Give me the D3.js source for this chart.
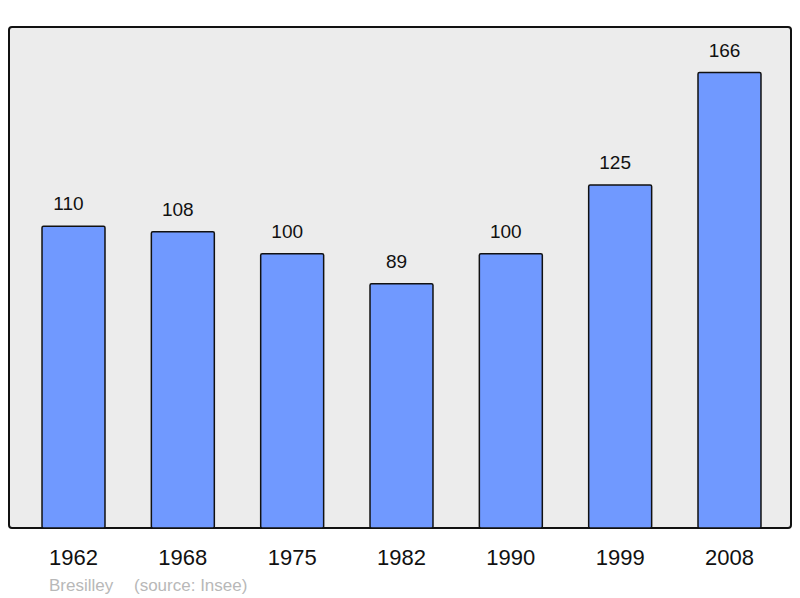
<!DOCTYPE html>
<html>
<head>
<meta charset="utf-8">
<script src="https://cdn.jsdelivr.net/npm/d3@7"></script>
<style>
  body { margin: 0; background: #fff; }
  text { font-family: "Liberation Sans", Arial, sans-serif; }
</style>
</head>
<body>
<div id="wrapper"></div>
<script>
// population by census year
const years = ["1962", "1968", "1975", "1982", "1990", "1999", "2008"]
const populations = [110, 108, 100, 89, 100, 125, 166]
const townName = "Bresilley"
const sourceLabel = "(source: Insee)"

const dimensions = {
  width: 800,
  height: 598,
  frame: { left: 9, right: 791, top: 27, bottom: 528 },
}

const wrapper = d3.select("#wrapper")
  .append("svg")
  .attr("width", dimensions.width)
  .attr("height", dimensions.height)

// grey plot frame with rounded corners
wrapper.append("rect")
  .attr("x", dimensions.frame.left)
  .attr("y", dimensions.frame.top)
  .attr("width", dimensions.frame.right - dimensions.frame.left)
  .attr("height", dimensions.frame.bottom - dimensions.frame.top)
  .attr("rx", 3)
  .attr("fill", "#ececec")
  .attr("stroke", "#111")
  .attr("stroke-width", 2)

// step ~109px, bars ~63px wide, first bar starts at x=42
const xScale = d3.scaleBand()
  .domain(years)
  .range([9, 794])
  .paddingInner(0.424)
  .paddingOuter(0.302)

const yScale = d3.scaleLinear()
  .domain([0, d3.max(populations) * 1.1])
  .range([dimensions.frame.bottom, dimensions.frame.top])

const data = years.map((y, i) => ({ year: y, value: populations[i] }))

wrapper.selectAll(".bar")
  .data(data)
  .enter().append("rect")
  .attr("class", "bar")
  .attr("x", d => xScale(d.year))
  .attr("y", d => yScale(d.value))
  .attr("width", xScale.bandwidth())
  .attr("height", d => yScale(0) - yScale(d.value))
  .attr("rx", 1.5)
  .attr("fill", "#7099ff")
  .attr("stroke", "#111")
  .attr("stroke-width", 1.5)

// value labels sit a little left of the bar centre, as in the original
wrapper.selectAll(".value")
  .data(data)
  .enter().append("text")
  .attr("class", "value")
  .attr("x", d => xScale(d.year) + xScale.bandwidth() / 2 - 5)
  .attr("y", d => yScale(d.value) - 16)
  .attr("text-anchor", "middle")
  .attr("font-size", 19)
  .attr("fill", "#111")
  .text(d => d.value)

// year axis, no line or ticks
const xAxis = d3.axisBottom(xScale).tickSize(0).tickPadding(0)
const xAxisGroup = wrapper.append("g")
  .attr("transform", `translate(0, 549)`)
  .call(xAxis)
xAxisGroup.select(".domain").remove()
xAxisGroup.selectAll("text")
  .attr("dy", null)
  .attr("y", 16)
  .attr("font-family", "Liberation Sans, Arial, sans-serif")
  .attr("font-size", 22)
  .attr("fill", "#111")

wrapper.append("text")
  .attr("x", 49)
  .attr("y", 591)
  .attr("font-size", 17)
  .attr("fill", "#b8b8b8")
  .text(townName)

wrapper.append("text")
  .attr("x", 134)
  .attr("y", 591)
  .attr("font-size", 17)
  .attr("fill", "#b8b8b8")
  .text(sourceLabel)
</script>
</body>
</html>
